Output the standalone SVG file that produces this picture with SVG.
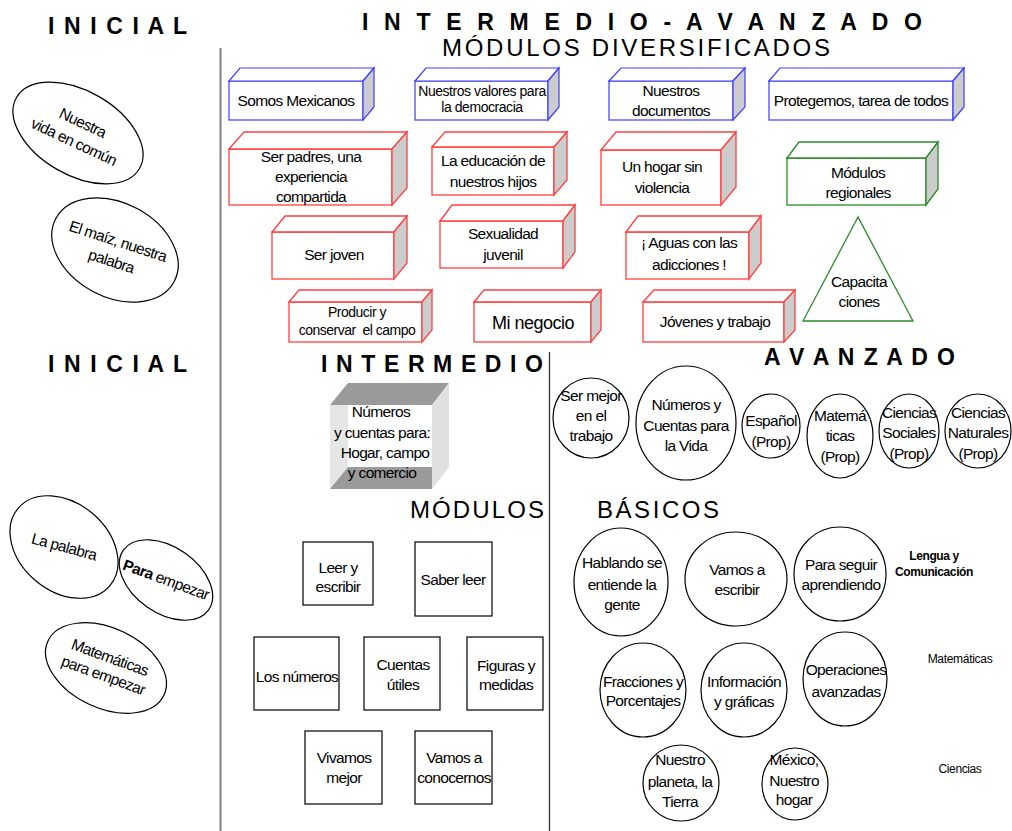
<svg xmlns="http://www.w3.org/2000/svg" width="1012" height="831" viewBox="0 0 1012 831">
<style>
text{font-family:"Liberation Sans",Arial,sans-serif;fill:#000}
.t{font-size:15.5px;letter-spacing:-0.65px;text-anchor:middle}
.h{font-size:23px;font-weight:bold}
.r{font-size:24px}
.bl{fill:#fff;stroke:#3c3cff;stroke-width:1.2}
.rd{fill:#fff;stroke:#ff4040;stroke-width:1.3}
.gr{fill:#fff;stroke:#2a8a2a;stroke-width:1.3}
.sd{fill:#cccccc}
.el{fill:#fff;stroke:#000;stroke-width:1.2}
.sq{fill:#fff;stroke:#000;stroke-width:1.2}
.sm{font-size:12px;letter-spacing:-0.4px;text-anchor:middle}
</style>
<rect width="1012" height="831" fill="#fff"/>
<g id="connectors">
<line x1="220.5" y1="48" x2="220.5" y2="831" stroke="#808080" stroke-width="2"/>
<line x1="549.5" y1="352" x2="549.5" y2="831" stroke="#333" stroke-width="1.3"/>
</g>
<g id="headings">
<text class="h" x="48" y="34" textLength="139" lengthAdjust="spacing">I N I C I A L</text>
<text class="h" x="362" y="30" textLength="560" lengthAdjust="spacing">I N T E R M E D I O - A V A N Z A D O</text>
<text class="r" x="442" y="56" textLength="388" lengthAdjust="spacing">MÓDULOS DIVERSIFICADOS</text>
<text class="h" x="48" y="372" textLength="139" lengthAdjust="spacing">I N I C I A L</text>
<text class="h" x="321" y="372" textLength="222" lengthAdjust="spacing">I N T E R M E D I O</text>
<text class="h" x="764" y="365" textLength="191" lengthAdjust="spacing">A V A N Z A D O</text>
<text class="r" x="410" y="518" textLength="134" lengthAdjust="spacing">MÓDULOS</text>
<text class="r" x="597" y="518" textLength="122" lengthAdjust="spacing">BÁSICOS</text>
</g>
<g id="n-somos">
<rect class="bl" x="229" y="81" width="134" height="39"/>
<polygon class="bl" points="229,81 240,68 374,68 363,81"/>
<polygon class="bl sd" points="363,81 374,68 374,107 363,120"/>
<text class="t" x="296" y="106">Somos Mexicanos</text>
</g>
<g id="n-valores">
<rect class="bl" x="415" y="81" width="133" height="39"/>
<polygon class="bl" points="415,81 426,68 559,68 548,81"/>
<polygon class="bl sd" points="548,81 559,68 559,107 548,120"/>
<text class="t" style="font-size:14px;letter-spacing:-0.45px" x="482" y="96">Nuestros valores para</text>
<text class="t" style="font-size:14px;letter-spacing:-0.45px" x="482" y="112">la democracia</text>
</g>
<g id="n-documentos">
<rect class="bl" x="609" y="81" width="124" height="39"/>
<polygon class="bl" points="609,81 621,68 745,68 733,81"/>
<polygon class="bl sd" points="733,81 745,68 745,107 733,120"/>
<text class="t" x="671" y="96">Nuestros</text>
<text class="t" x="671" y="116">documentos</text>
</g>
<g id="n-protegemos">
<rect class="bl" x="769" y="81" width="184" height="39"/>
<polygon class="bl" points="769,81 780,68 964,68 953,81"/>
<polygon class="bl sd" points="953,81 964,68 964,107 953,120"/>
<text class="t" x="861" y="106">Protegemos, tarea de todos</text>
</g>
<g id="n-padres">
<rect class="rd" x="229" y="149" width="163" height="56"/>
<polygon class="rd" points="229,149 244,132 407,132 392,149"/>
<polygon class="rd sd" points="392,149 407,132 407,188 392,205"/>
<text class="t" x="311" y="162">Ser padres, una</text>
<text class="t" x="311" y="182">experiencia</text>
<text class="t" x="311" y="202">compartida</text>
</g>
<g id="n-educacion">
<rect class="rd" x="432" y="147" width="122" height="48"/>
<polygon class="rd" points="432,147 445,132 567,132 554,147"/>
<polygon class="rd sd" points="554,147 567,132 567,180 554,195"/>
<text class="t" x="493" y="166">La educación de</text>
<text class="t" x="493" y="187">nuestros hijos</text>
</g>
<g id="n-hogar">
<rect class="rd" x="601" y="150" width="120" height="55"/>
<polygon class="rd" points="601,150 616,132 736,132 721,150"/>
<polygon class="rd sd" points="721,150 736,132 736,187 721,205"/>
<text class="t" x="662" y="172">Un hogar sin</text>
<text class="t" x="662" y="193">violencia</text>
</g>
<g id="n-regionales">
<rect class="gr" x="787" y="158" width="139" height="47"/>
<polygon class="gr" points="787,158 799,142 938,142 926,158"/>
<polygon class="gr sd" points="926,158 938,142 938,189 926,205"/>
<text class="t" x="858" y="178">Módulos</text>
<text class="t" x="858" y="198">regionales</text>
</g>
<g id="n-joven">
<rect class="rd" x="272" y="232" width="122" height="47"/>
<polygon class="rd" points="272,232 285,216 407,216 394,232"/>
<polygon class="rd sd" points="394,232 407,216 407,263 394,279"/>
<text class="t" x="334" y="260">Ser joven</text>
</g>
<g id="n-sexualidad">
<rect class="rd" x="440" y="221" width="123" height="47"/>
<polygon class="rd" points="440,221 452,205 575,205 563,221"/>
<polygon class="rd sd" points="563,221 575,205 575,252 563,268"/>
<text class="t" x="503" y="239">Sexualidad</text>
<text class="t" x="503" y="260">juvenil</text>
</g>
<g id="n-aguas">
<rect class="rd" x="626" y="232" width="123" height="47"/>
<polygon class="rd" points="626,232 638,216 761,216 749,232"/>
<polygon class="rd sd" points="749,232 761,216 761,263 749,279"/>
<text class="t" x="689" y="248">¡ Aguas con las</text>
<text class="t" x="689" y="270">adicciones !</text>
</g>
<g id="n-capacitaciones">
<polygon points="858,217 803,321 913,321" fill="#fff" stroke="#2a8a2a" stroke-width="1.3"/>
<text class="t" x="859" y="287">Capacita</text>
<text class="t" x="859" y="307">ciones</text>
</g>
<g id="n-producir">
<rect class="rd" x="289" y="302" width="133" height="40"/>
<polygon class="rd" points="289,302 299,290 432,290 422,302"/>
<polygon class="rd sd" points="422,302 432,290 432,330 422,342"/>
<text class="t" style="font-size:14px;letter-spacing:-0.5px" x="357" y="317">Producir y</text>
<text class="t" style="font-size:14px;letter-spacing:-0.5px" x="357" y="335" xml:space="preserve">conservar  el campo</text>
</g>
<g id="n-negocio">
<rect class="rd" x="474" y="302" width="117" height="40"/>
<polygon class="rd" points="474,302 484,290 601,290 591,302"/>
<polygon class="rd sd" points="591,302 601,290 601,330 591,342"/>
<text class="t" style="font-size:18px;letter-spacing:-0.5px" x="533" y="329">Mi negocio</text>
</g>
<g id="n-jovenes">
<rect class="rd" x="643" y="302" width="141" height="40"/>
<polygon class="rd" points="643,302 654,290 795,290 784,302"/>
<polygon class="rd sd" points="784,302 795,290 795,330 784,342"/>
<text class="t" x="715" y="327">Jóvenes y trabajo</text>
</g>
<g id="n-vida-comun">
<ellipse class="el" cx="78" cy="133" rx="71" ry="42" transform="rotate(30 78 133)"/>
<g transform="translate(78 133) rotate(25)">
<text class="t" x="0" y="-6">Nuestra</text>
<text class="t" x="0" y="15">vida en común</text>
</g>
</g>
<g id="n-maiz">
<ellipse class="el" cx="115" cy="250" rx="67" ry="47" transform="rotate(28 115 250)"/>
<g transform="translate(115 250) rotate(18)">
<text class="t" x="0" y="-4">El maíz, nuestra</text>
<text class="t" x="0" y="17">palabra</text>
</g>
</g>
<g id="n-numeros-cuentas">
<polygon points="330,405 348,383 449,383 432,405" fill="#9a9a9a"/>
<polygon points="432,405 449,383 449,467 432,489" fill="#e0e0e0"/>
<polygon points="330,405 348,405 348,467 330,489" fill="#e6e6e6"/>
<polygon points="330,489 348,467 432,467 432,489" fill="#9a9a9a"/>
<rect x="348" y="405" width="84" height="62" fill="#fff"/>
<text class="t" x="381" y="417">Números</text>
<text class="t" x="382" y="438">y cuentas para:</text>
<text class="t" x="385" y="458">Hogar, campo</text>
<text class="t" x="382" y="478">y comercio</text>
</g>
<g id="n-la-palabra">
<ellipse class="el" cx="64" cy="547" rx="60" ry="44" transform="rotate(40 64 547)"/>
<text class="t" x="64" y="552" transform="rotate(15 64 547)">La palabra</text>
</g>
<g id="n-para-empezar">
<ellipse class="el" cx="166" cy="580" rx="52" ry="33" transform="rotate(35 166 580)"/>
<text class="t" x="166" y="585" transform="rotate(20 166 580)"><tspan font-weight="bold">Para</tspan> empezar</text>
</g>
<g id="n-mate-empezar">
<ellipse class="el" cx="106" cy="668" rx="64" ry="40" transform="rotate(25 106 668)"/>
<g transform="translate(106 668) rotate(20)">
<text class="t" x="0" y="-6">Matemáticas</text>
<text class="t" x="0" y="13">para empezar</text>
</g>
</g>
<g id="n-leer-escribir">
<rect class="sq" x="303" y="542" width="70" height="63"/>
<text class="t" x="338" y="573">Leer y</text>
<text class="t" x="338" y="592">escribir</text>
</g>
<g id="n-saber-leer">
<rect class="sq" x="415" y="542" width="77" height="74"/>
<text class="t" x="453" y="585">Saber leer</text>
</g>
<g id="n-los-numeros">
<rect class="sq" x="254" y="637" width="85" height="73"/>
<text class="t" x="297" y="682">Los números</text>
</g>
<g id="n-cuentas-utiles">
<rect class="sq" x="364" y="637" width="76" height="73"/>
<text class="t" x="403" y="670">Cuentas</text>
<text class="t" x="403" y="690">útiles</text>
</g>
<g id="n-figuras">
<rect class="sq" x="467" y="637" width="76" height="73"/>
<text class="t" x="506" y="671">Figuras y</text>
<text class="t" x="506" y="690">medidas</text>
</g>
<g id="n-vivamos">
<rect class="sq" x="305" y="731" width="77" height="73"/>
<text class="t" x="344" y="763">Vivamos</text>
<text class="t" x="344" y="783">mejor</text>
</g>
<g id="n-conocernos">
<rect class="sq" x="415" y="731" width="77" height="73"/>
<text class="t" x="454" y="763">Vamos a</text>
<text class="t" x="454" y="783">conocernos</text>
</g>
<g id="n-ser-mejor">
<ellipse class="el" cx="591" cy="418" rx="38" ry="40"/>
<text class="t" x="591" y="401">Ser mejor</text>
<text class="t" x="591" y="421">en el</text>
<text class="t" x="591" y="441">trabajo</text>
</g>
<g id="n-numeros-vida">
<ellipse class="el" cx="686" cy="423" rx="50" ry="57"/>
<text class="t" x="686" y="410">Números y</text>
<text class="t" x="686" y="431">Cuentas para</text>
<text class="t" x="686" y="451">la Vida</text>
</g>
<g id="n-espanol">
<ellipse class="el" cx="771" cy="426" rx="29" ry="32"/>
<text class="t" x="771" y="426">Español</text>
<text class="t" x="771" y="447">(Prop)</text>
</g>
<g id="n-matematicas-prop">
<ellipse class="el" cx="840" cy="436" rx="33" ry="42"/>
<text class="t" x="840" y="421">Matemá</text>
<text class="t" x="840" y="441">ticas</text>
<text class="t" x="840" y="462">(Prop)</text>
</g>
<g id="n-sociales">
<ellipse class="el" cx="909" cy="431" rx="30" ry="37"/>
<text class="t" x="909" y="418">Ciencias</text>
<text class="t" x="909" y="438">Sociales</text>
<text class="t" x="909" y="459">(Prop)</text>
</g>
<g id="n-naturales">
<ellipse class="el" cx="978" cy="431" rx="33" ry="37"/>
<text class="t" x="978" y="418">Ciencias</text>
<text class="t" x="978" y="438">Naturales</text>
<text class="t" x="978" y="459">(Prop)</text>
</g>
<g id="n-hablando">
<ellipse class="el" cx="621" cy="582" rx="47" ry="54"/>
<text class="t" x="622" y="568">Hablando se</text>
<text class="t" x="622" y="590">entiende la</text>
<text class="t" x="622" y="610">gente</text>
</g>
<g id="n-vamos-escribir">
<ellipse class="el" cx="736" cy="579" rx="51" ry="47"/>
<text class="t" x="737" y="575">Vamos a</text>
<text class="t" x="737" y="595">escribir</text>
</g>
<g id="n-seguir">
<ellipse class="el" cx="840" cy="574" rx="46" ry="47"/>
<text class="t" x="841" y="570">Para seguir</text>
<text class="t" x="841" y="590">aprendiendo</text>
</g>
<g id="n-fracciones">
<ellipse class="el" cx="643" cy="690" rx="43" ry="47"/>
<text class="t" x="643" y="687">Fracciones y</text>
<text class="t" x="643" y="706">Porcentajes</text>
</g>
<g id="n-informacion">
<ellipse class="el" cx="744" cy="690" rx="43" ry="47"/>
<text class="t" x="744" y="687">Información</text>
<text class="t" x="744" y="707">y gráficas</text>
</g>
<g id="n-operaciones">
<ellipse class="el" cx="845" cy="679" rx="42" ry="47"/>
<text class="t" x="846" y="675">Operaciones</text>
<text class="t" x="846" y="697">avanzadas</text>
</g>
<g id="n-planeta">
<ellipse class="el" cx="681" cy="783" rx="38" ry="38"/>
<text class="t" x="680" y="765">Nuestro</text>
<text class="t" x="680" y="787">planeta, la</text>
<text class="t" x="680" y="807">Tierra</text>
</g>
<g id="n-mexico">
<ellipse class="el" cx="795" cy="784" rx="33" ry="36"/>
<text class="t" x="794" y="765">México,</text>
<text class="t" x="794" y="786">Nuestro</text>
<text class="t" x="794" y="805">hogar</text>
</g>
<g id="labels">
<text class="sm" font-weight="bold" x="934" y="560">Lengua y</text>
<text class="sm" font-weight="bold" x="934" y="576">Comunicación</text>
<text class="sm" style="letter-spacing:-0.3px" x="960" y="663">Matemáticas</text>
<text class="sm" x="960" y="773">Ciencias</text>
</g>
</svg>
